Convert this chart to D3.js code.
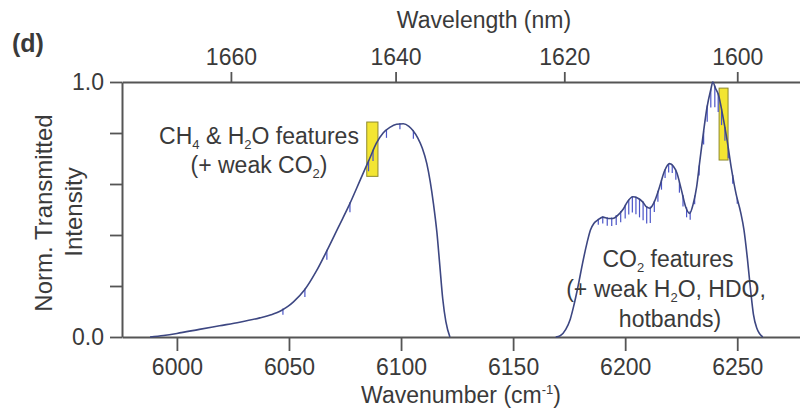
<!DOCTYPE html>
<html>
<head>
<meta charset="utf-8">
<script src="https://cdn.jsdelivr.net/npm/d3@7"></script>
<style>
  html, body { margin: 0; padding: 0; background: #fff; }
  #chart { width: 800px; height: 408px; }
  text { font-family: "Liberation Sans", Arial, Helvetica, sans-serif; fill: #3a3a3a; }
</style>
</head>
<body>
<div id="chart"></div>
<script>
// tick values
const yTicks = [0, 0.2, 0.4, 0.6, 0.8, 1.0];
const wnTicks = [6000, 6050, 6100, 6150, 6200, 6250];
const nmTicks = [1660, 1640, 1620, 1600];

// transmitted intensity, [wavenumber cm-1, normalised intensity]
const ch4Band = [
  [5988, 0], [5994, 0.006], [6000, 0.014], [6010, 0.03], [6019, 0.044], [6028, 0.058],
  [6037, 0.075], [6042, 0.087], [6044.5, 0.095], [6047, 0.106], [6049.5, 0.12], [6052, 0.138],
  [6057, 0.185], [6062, 0.255], [6067, 0.34], [6072, 0.43], [6077, 0.52], [6082, 0.62],
  [6086, 0.70], [6089, 0.76], [6092, 0.80], [6095, 0.822], [6098, 0.834], [6101, 0.836],
  [6103.5, 0.826], [6105.3, 0.81], [6107.5, 0.78], [6109.5, 0.74], [6111.5, 0.68], [6113, 0.61],
  [6114.5, 0.52], [6116, 0.41], [6117.3, 0.28], [6118.6, 0.15], [6120, 0.06], [6121.8, 0]
];
const co2Band = [
  [6169, 0], [6171, 0.005], [6173.5, 0.03], [6175.5, 0.07], [6177, 0.12], [6179, 0.2],
  [6181, 0.29], [6183, 0.37], [6184.5, 0.42], [6186, 0.445], [6188, 0.46], [6190, 0.47],
  [6192.5, 0.465], [6194.5, 0.465], [6197, 0.48], [6199, 0.5], [6201, 0.53], [6203.4, 0.55],
  [6205.5, 0.545], [6207.8, 0.53], [6209.5, 0.51], [6211, 0.505], [6213, 0.53], [6215.4, 0.59],
  [6217.5, 0.65], [6219.8, 0.68], [6221.5, 0.67], [6223, 0.645], [6225, 0.58], [6227, 0.51],
  [6228.8, 0.485], [6230.3, 0.52], [6231.9, 0.59], [6233.3, 0.69], [6234.6, 0.78], [6236.5, 0.9],
  [6238.2, 0.97], [6239.1, 1.0], [6240.3, 0.975], [6241.6, 0.95], [6243.5, 0.87], [6245.5, 0.77],
  [6247.4, 0.66], [6249.5, 0.56], [6251.5, 0.49], [6253, 0.42], [6254.5, 0.31], [6256, 0.18],
  [6257.2, 0.09], [6258.7, 0.035], [6261.4, 0]
];

// absorption lines, [wavenumber, depth]
const ch4Lines = [
  [6047.3, 0.02], [6057.1, 0.03], [6066.9, 0.035], [6077.2, 0.035], [6085.5, 0.04],
  [6087.5, 0.04], [6093.5, 0.03], [6099.5, 0.02], [6105.5, 0.03]
];
const co2Lines = [
  [6188, 0.02], [6190, 0.025], [6192, 0.03], [6194, 0.03], [6196, 0.035], [6198, 0.04],
  [6200, 0.05], [6201.6, 0.055], [6203.2, 0.06], [6204.8, 0.065], [6206.4, 0.07], [6208, 0.07],
  [6209.6, 0.065], [6211.2, 0.06], [6213, 0.04], [6214.6, 0.04], [6216.2, 0.035], [6217.8, 0.03],
  [6219.4, 0.03], [6221, 0.03], [6222.6, 0.035], [6224.2, 0.04], [6225.8, 0.04], [6227.4, 0.035],
  [6229, 0.03], [6231, 0.03], [6233, 0.035], [6235, 0.05], [6236.6, 0.06], [6238.2, 0.07],
  [6240, 0.08], [6241.5, 0.07], [6243, 0.06], [6244.5, 0.05], [6246, 0.04], [6248, 0.03],
  [6250, 0.02]
];

// highlighted windows, [w0, w1, v0, v1]
const boxes = [
  [6084.7, 6089.7, 0.63, 0.843],
  [6241.9, 6245.9, 0.694, 0.976]
];

const width = 800, height = 408;
const svg = d3.select("#chart").append("svg")
  .attr("width", width).attr("height", height);

const x = d3.scaleLinear().domain([5975.5, 6278]).range([122, 800]);
const y = d3.scaleLinear().domain([0, 1]).range([337, 82]);

const FONT = "Liberation Sans, Arial, Helvetica, sans-serif";
const AXIS = "#555";

function styleAxis(g) {
  g.attr("font-size", 23).attr("font-family", FONT).attr("color", AXIS);
  g.select(".domain").attr("stroke-width", 2);
  g.selectAll(".tick line").attr("stroke-width", 1.8);
  g.selectAll(".tick text").attr("fill", "#3a3a3a");
}

// bottom axis (wavenumber)
svg.append("g")
  .attr("transform", "translate(0,337)")
  .call(d3.axisBottom(x).tickValues(wnTicks).tickFormat(d3.format("d"))
    .tickSize(14).tickSizeOuter(0).tickPadding(8))
  .call(styleAxis);

// top axis (wavelength)
svg.append("g")
  .attr("transform", "translate(0,82)")
  .call(d3.axisTop(x)
    .tickValues(nmTicks.map(n => 1e7 / n))
    .tickFormat(d => Math.round(1e7 / d))
    .tickSize(10).tickSizeOuter(0).tickPadding(7))
  .call(styleAxis);

// left axis
svg.append("g")
  .attr("transform", "translate(122,0)")
  .call(d3.axisLeft(y).tickValues(yTicks)
    .tickFormat(d => (d === 0 || d === 1) ? d3.format(".1f")(d) : "")
    .tickSize(12).tickSizeOuter(0).tickPadding(6))
  .call(styleAxis);

// highlight boxes
svg.append("g").selectAll("rect")
  .data(boxes)
  .join("rect")
  .attr("x", d => x(d[0]))
  .attr("y", d => y(d[3]))
  .attr("width", d => x(d[1]) - x(d[0]))
  .attr("height", d => y(d[2]) - y(d[3]))
  .attr("fill", "#f3e532")
  .attr("stroke", "#8f8a2c")
  .attr("stroke-width", 1);

// spectrum
const line = d3.line()
  .x(d => x(d[0]))
  .y(d => y(d[1]))
  .curve(d3.curveMonotoneX);

[[ch4Band, ch4Lines], [co2Band, co2Lines]].forEach(([band, lines]) => {
  const at = d3.scaleLinear().domain(band.map(d => d[0])).range(band.map(d => d[1]));
  svg.append("g").selectAll("line")
    .data(lines)
    .join("line")
    .attr("x1", d => x(d[0])).attr("x2", d => x(d[0]))
    .attr("y1", d => y(at(d[0]) + 0.004))
    .attr("y2", d => y(at(d[0]) - d[1]))
    .attr("stroke", "#4b55c8")
    .attr("stroke-width", 1.2);
  svg.append("path")
    .datum(band)
    .attr("d", line)
    .attr("fill", "none")
    .attr("stroke", "#3d4782")
    .attr("stroke-width", 1.6);
});

// texts with sub/superscripts
function addText(xp, yp, size, parts, opts = {}) {
  const t = svg.append("text")
    .attr("x", xp).attr("y", yp)
    .attr("font-size", size)
    .attr("text-anchor", opts.anchor || "middle")
    .attr("font-weight", opts.bold ? "bold" : "normal");
  if (opts.rotate) t.attr("transform", `rotate(-90,${xp},${yp})`);
  let shift = 0;
  parts.forEach(p => {
    if (typeof p === "string") {
      t.append("tspan").attr("dy", -shift).text(p);
      shift = 0;
    } else {
      const d = p.sub ? 5 : -9;
      t.append("tspan").attr("font-size", 13).attr("dy", d - shift).text(p.sub || p.sup);
      shift = d;
    }
  });
  return t;
}

addText(12, 52, 25, ["(d)"], { anchor: "start", bold: true });
addText(484, 28, 23, ["Wavelength (nm)"]);
addText(461, 403, 23, ["Wavenumber (cm", { sup: "-1" }, ")"]);
addText(52, 213, 24, ["Norm. Transmitted"], { rotate: true });
addText(82, 212, 24, ["Intensity"], { rotate: true });

addText(259, 144, 23, ["CH", { sub: "4" }, " & H", { sub: "2" }, "O features"]);
addText(259, 173, 23, ["(+ weak CO", { sub: "2" }, ")"]);

addText(668, 267, 23, ["CO", { sub: "2" }, " features"]);
addText(666, 297, 23, ["(+ weak H", { sub: "2" }, "O, HDO,"]);
addText(670, 327, 23, ["hotbands)"]);
</script>
</body>
</html>
